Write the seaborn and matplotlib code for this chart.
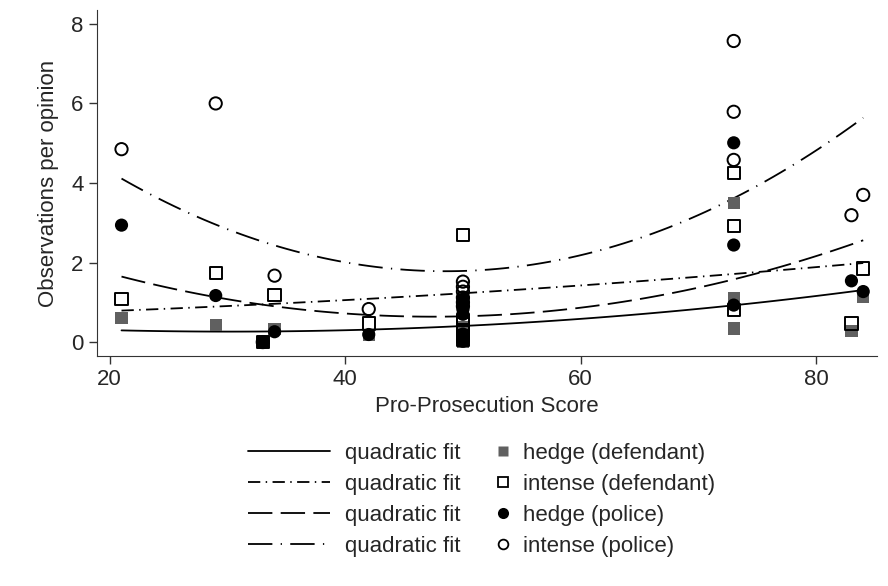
import seaborn as sns
import matplotlib.pyplot as plt
from matplotlib.lines import Line2D
import pandas as pd

# pro-prosecution score of each opinion
score = [21, 29, 33, 34, 42, 50, 50, 50, 50, 50, 50, 73, 73, 73, 83, 84]

# observations per opinion
hedge_def = [0.60, 0.43, 0.0, 0.33, 0.17, 0.38, 0.18, 0.10, 0.05, 0.0, 0.0, 3.50, 1.10, 0.34, 0.28, 1.14]
intense_def = [1.08, 1.73, 0.0, 1.18, 0.47, 2.69, 0.56, 0.45, 0.30, 0.15, 0.05, 4.26, 2.92, 0.80, 0.47, 1.85]
hedge_pol = [2.94, 1.17, 0.0, 0.26, 0.19, 1.08, 0.95, 0.82, 0.70, 0.20, 0.02, 5.01, 2.44, 0.93, 1.54, 1.27]
intense_pol = [4.85, 6.00, 0.0, 1.67, 0.83, 1.52, 1.39, 1.27, 1.12, 1.00, 0.90, 7.57, 5.79, 4.58, 3.19, 3.70]

# quadratic fit curves
fit_x = [21, 36, 50, 62, 70, 73, 84]
fit_hedge_def = [0.30, 0.26, 0.41, 0.64, 0.84, 0.91, 1.31]
fit_intense_def = [0.79, 1.00, 1.22, 1.46, 1.63, 1.74, 1.98]
fit_hedge_pol = [1.64, 0.84, 0.65, 0.94, 1.37, 1.56, 2.57]
fit_intense_pol = [4.10, 2.28, 1.81, 2.30, 3.20, 3.61, 5.65]

df = pd.DataFrame({'score': score, 'hedge_def': hedge_def, 'intense_def': intense_def,
                   'hedge_pol': hedge_pol, 'intense_pol': intense_pol})
fits = pd.DataFrame({'x': fit_x, 'hd': fit_hedge_def, 'id': fit_intense_def,
                     'hp': fit_hedge_pol, 'ip': fit_intense_pol})

sns.set_style("ticks")
plt.rcParams['font.family'] = ['Liberation Sans', 'DejaVu Sans']

gray = '#606060'
lw = 1.3
styles = {
    'hd': dict(linestyle='-'),
    'id': dict(dashes=(6.8, 3, 0.8, 3)),
    'hp': dict(dashes=(13.5, 4.6)),
    'ip': dict(dashes=(13.5, 4.6, 0.7, 4.6)),
}

fig = plt.figure(figsize=(8.88, 5.86), dpi=100)
ax = fig.add_axes([0.109, 0.3925, 0.879, 0.5905])

for col in ['hd', 'id', 'hp', 'ip']:
    sns.regplot(data=fits, x='x', y=col, order=2, ci=None, scatter=False, ax=ax,
                color='black', line_kws=dict(lw=lw, dash_capstyle='butt', **styles[col]))

ms = 78
sns.scatterplot(data=df, x='score', y='hedge_def', marker='s', s=ms, color=gray,
                edgecolor='none', ax=ax, zorder=3)
sns.scatterplot(data=df, x='score', y='intense_def', marker='s', s=ms, facecolor='none',
                edgecolor='black', linewidth=1.4, ax=ax, zorder=3)
sns.scatterplot(data=df, x='score', y='hedge_pol', marker='o', s=ms + 12, color='black',
                edgecolor='none', ax=ax, zorder=3)
sns.scatterplot(data=df, x='score', y='intense_pol', marker='o', s=ms, facecolor='none',
                edgecolor='black', linewidth=1.4, ax=ax, zorder=3)

ax.set_xlim(18.9, 85.2)
ax.set_ylim(-0.35, 8.35)
ax.set_xticks([20, 40, 60, 80])
ax.set_yticks([0, 2, 4, 6, 8])
ax.tick_params(labelsize=16, length=6, width=1, color='#333333')
ax.set_xlabel('Pro-Prosecution Score', fontsize=16, labelpad=4)
ax.set_ylabel('Observations per opinion', fontsize=16, labelpad=9)
sns.despine(ax=ax)
for sp in ['left', 'bottom']:
    ax.spines[sp].set_color('#333333')

line_handles = [Line2D([], [], color='black', lw=lw, dash_capstyle='butt', **styles[c])
                for c in ['hd', 'id', 'hp', 'ip']]
fig.legend(line_handles, ['quadratic fit'] * 4, loc='upper left',
           bbox_to_anchor=(248 / 888, 1 - 443 / 586), bbox_transform=fig.transFigure,
           frameon=False, fontsize=16, handlelength=3.7, handletextpad=0.68,
           labelspacing=0.45, borderpad=0, borderaxespad=0)

mk_handles = [
    Line2D([], [], ls='none', marker='s', ms=7.5, mfc=gray, mec='none'),
    Line2D([], [], ls='none', marker='s', ms=7, mfc='none', mec='black', mew=1.3),
    Line2D([], [], ls='none', marker='o', ms=8, mfc='black', mec='none'),
    Line2D([], [], ls='none', marker='o', ms=7, mfc='none', mec='black', mew=1.3),
]
fig.legend(mk_handles, ['hedge (defendant)', 'intense (defendant)', 'hedge (police)', 'intense (police)'],
           loc='upper left', bbox_to_anchor=(492 / 888, 1 - 443 / 586), bbox_transform=fig.transFigure,
           frameon=False, fontsize=16, handlelength=1.0, handletextpad=0.4,
           labelspacing=0.45, borderpad=0, borderaxespad=0)

plt.savefig('out.png', dpi=100)
